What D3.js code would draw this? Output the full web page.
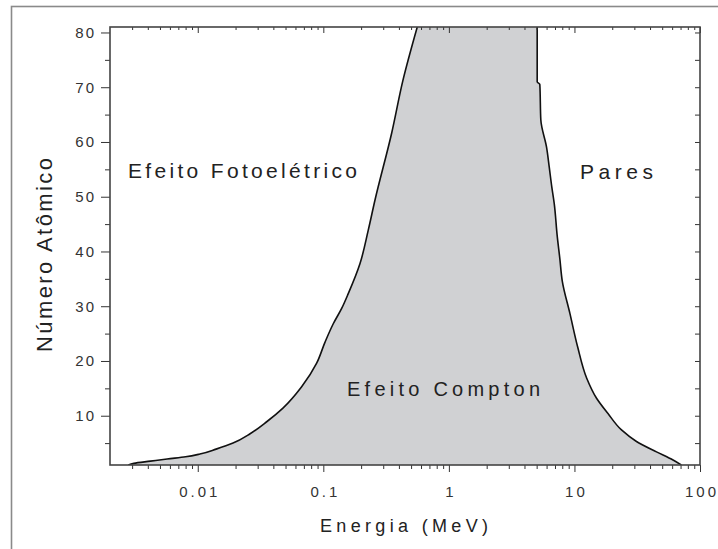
<!DOCTYPE html>
<html>
<head>
<meta charset="utf-8">
<script src="https://cdn.jsdelivr.net/npm/d3@7"></script>
<style>
  body { margin: 0; background: #fff; }
  svg text { font-family: "Liberation Sans", Arial, sans-serif; }
  .axis path, .axis line { stroke: #333; }
  .axis text { fill: #333; }
</style>
</head>
<body>
<div id="chart"></div>
<script>
// limite efeito fotoelétrico / Compton (energia em MeV, número atômico)
var photoEnergy = [0.0028, 0.0031, 0.0042, 0.0057, 0.0080, 0.0104, 0.0140, 0.0191, 0.0261, 0.0354, 0.0477, 0.0672, 0.0885, 0.103, 0.120, 0.140, 0.158, 0.196, 0.228, 0.258, 0.350, 0.431, 0.56];
var photoZ      = [1,      1.3,    1.7,    2.1,    2.5,    3.0,    3.9,    5.0,    6.7,    8.9,    11.4,   15.3,   19.6,   23.4,  26.8,  29.6,  32.3,  37.8,  43.9,  49.4,  61.6,  71.3,  81];

// limite Compton / produção de pares
var pairEnergy = [5.05, 5.05, 5.3,  5.4,  6.0, 6.3,  6.6,  6.9,  7.3,  7.65, 8.0,  9.2,  10.6, 12.5, 15.0, 18.5, 23.7, 31.2, 45.0, 61.0, 71.0];
var pairZ      = [81,   71,   70.5, 64,   59,  55.4, 51.8, 48.8, 42.7, 38.7, 34.6, 28.7, 22.6, 16.9, 13.2, 10.4, 7.4,  5.3,  3.4,  1.9,  1.0];

var xMajorTicks = [0.01, 0.1, 1, 10, 100];
var xTickLabels = ['0.01', '0.1', '1', '10', '100'];
var yMajorTicks = [10, 20, 30, 40, 50, 60, 70, 80];
var yMinorTicks = [5, 15, 25, 35, 45, 55, 65, 75];

var svg = d3.select('#chart').append('svg')
    .attr('width', 718)
    .attr('height', 549),
  margin = {top: 27, right: 18, bottom: 84, left: 110},
  width = 718 - margin.left - margin.right,
  height = 549 - margin.top - margin.bottom;

// moldura externa
svg.append('rect')
  .attr('x', 11.5).attr('y', 6.5)
  .attr('width', 730).attr('height', 560)
  .attr('fill', 'none')
  .attr('stroke', '#8a8a8a')
  .attr('stroke-width', 1.6);

var g = svg.append('g').attr('transform', 'translate(' + margin.left + ',' + margin.top + ')');

g.append('clipPath').attr('id', 'plot-clip')
  .append('rect').attr('width', width).attr('height', height);

var x = d3.scaleLog().domain([0.002, 100]).range([0, width]),
  y = d3.scaleLinear().domain([1, 81]).range([height, 0]);

var xMinorTicks = [];
[0.001, 0.01, 0.1, 1, 10].forEach(function (d) {
  for (var k = 2; k <= 9; k++) {
    var v = d * k;
    if (v > 0.002 && v < 100) xMinorTicks.push(v);
  }
});

var photo = photoEnergy.map(function (e, i) { return {e: e, z: photoZ[i]}; });
var pair = pairEnergy.map(function (e, i) { return {e: e, z: pairZ[i]}; });

var line = d3.line()
  .curve(d3.curveMonotoneY)
  .x(function (d) { return x(d.e); })
  .y(function (d) { return y(d.z); });

var straight = d3.line()
  .x(function (d) { return x(d.e); })
  .y(function (d) { return y(d.z); });

var plot = g.append('g').attr('clip-path', 'url(#plot-clip)');

// região Compton
var topEdge = [{e: photoEnergy[photoEnergy.length - 1], z: 90}, {e: pairEnergy[0], z: 90}];

plot.append('path')
  .attr('d', line(photo) + 'L' + straight(topEdge).slice(1) + 'L' + line(pair).slice(1) + 'Z')
  .attr('fill', '#d0d1d3')
  .attr('stroke', 'none');

plot.append('path')
  .attr('d', line(photo))
  .attr('fill', 'none')
  .attr('stroke', '#111')
  .attr('stroke-width', 1.6);

plot.append('path')
  .attr('d', line(pair))
  .attr('fill', 'none')
  .attr('stroke', '#111')
  .attr('stroke-width', 1.6);

// eixos
g.append('g')
  .attr('class', 'axis axis--x')
  .attr('transform', 'translate(0,' + height + ')')
  .call(d3.axisBottom(x).tickValues(xMajorTicks).tickSize(7).tickPadding(14)
    .tickFormat(function (d, i) { return xTickLabels[i]; }))
  .call(function (s) {
    s.select('.domain').remove();
    s.selectAll('text').style('font-size', '15px').style('letter-spacing', '3px').attr('dx', '1.5px');
  });

g.append('g')
  .attr('class', 'axis axis--x-minor')
  .attr('transform', 'translate(0,' + height + ')')
  .call(d3.axisBottom(x).tickValues(xMinorTicks).tickSize(4).tickFormat(''))
  .call(function (s) { s.select('.domain').remove(); s.selectAll('line').attr('stroke', '#333'); });

g.append('g')
  .attr('class', 'axis axis--x-top')
  .call(d3.axisBottom(x).tickValues(xMajorTicks).tickSize(6).tickFormat(''))
  .call(function (s) { s.select('.domain').remove(); s.selectAll('line').attr('stroke', '#333'); });

g.append('g')
  .attr('class', 'axis axis--x-top-minor')
  .call(d3.axisBottom(x).tickValues(xMinorTicks).tickSize(3).tickFormat(''))
  .call(function (s) { s.select('.domain').remove(); s.selectAll('line').attr('stroke', '#333'); });

g.append('g')
  .attr('class', 'axis axis--y')
  .call(d3.axisLeft(y).tickValues(yMajorTicks).tickSize(9).tickPadding(5))
  .call(function (s) {
    s.select('.domain').remove();
    s.selectAll('text').style('font-size', '15px').style('letter-spacing', '2px');
  });

g.append('g')
  .attr('class', 'axis axis--y-minor')
  .call(d3.axisLeft(y).tickValues(yMinorTicks).tickSize(5).tickFormat(''))
  .call(function (s) { s.select('.domain').remove(); s.selectAll('line').attr('stroke', '#333'); });

g.append('g')
  .attr('class', 'axis axis--y-right')
  .attr('transform', 'translate(' + width + ',0)')
  .call(d3.axisLeft(y).tickValues(yMajorTicks.concat(yMinorTicks)).tickSize(5).tickFormat(''))
  .call(function (s) { s.select('.domain').remove(); s.selectAll('line').attr('stroke', '#333'); });

// moldura do gráfico
g.append('rect')
  .attr('width', width)
  .attr('height', height)
  .attr('fill', 'none')
  .attr('stroke', '#444')
  .attr('stroke-width', 1.6);

// textos
function label(txt, px, py, size, len) {
  g.append('text')
    .attr('x', px).attr('y', py)
    .attr('textLength', len)
    .attr('lengthAdjust', 'spacing')
    .style('font-size', size + 'px')
    .attr('fill', '#222')
    .text(txt);
}
label('Efeito Fotoelétrico', 128 - margin.left, 178 - margin.top, 21, 229);
label('Pares', 580 - margin.left, 179 - margin.top, 21, 73);
label('Efeito Compton', 347 - margin.left, 396 - margin.top, 20, 193);

svg.append('text')
  .attr('x', 320).attr('y', 532)
  .attr('textLength', 168)
  .attr('lengthAdjust', 'spacing')
  .style('font-size', '18px')
  .attr('fill', '#222')
  .text('Energia (MeV)');

svg.append('text')
  .attr('transform', 'translate(52,352) rotate(-90)')
  .attr('textLength', 194)
  .attr('lengthAdjust', 'spacing')
  .style('font-size', '22px')
  .attr('fill', '#222')
  .text('Número Atômico');
</script>
</body>
</html>
